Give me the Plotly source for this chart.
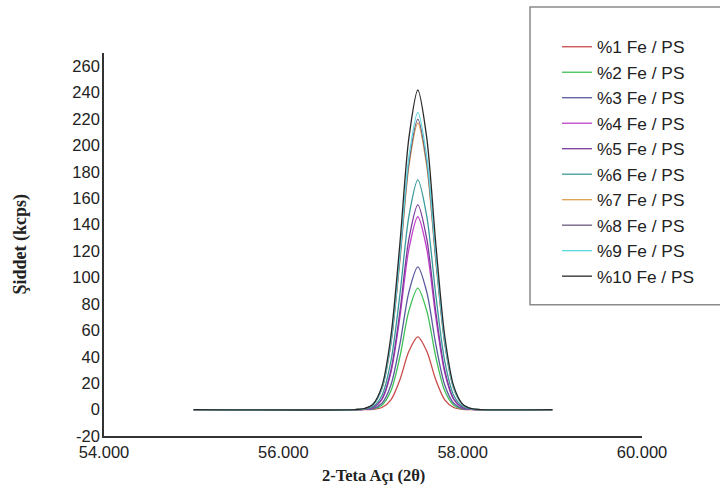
import plotly.graph_objects as go

# 2-theta positions (degrees)
two_theta = [55.0, 56.8, 56.9, 57.0, 57.1, 57.2, 57.3, 57.4, 57.5,
             57.6, 57.7, 57.8, 57.9, 58.0, 58.1, 58.2, 59.0]

# Intensity (kcps) of each Fe/PS sample at those positions
fe_1 = [0, 0, 0.0, 0.2, 1.6, 7.4, 22.6, 44.1, 55, 44.1, 22.6, 7.4, 1.6, 0.2, 0.0, 0, 0]
fe_2 = [0, 0, 0.1, 0.5, 3.3, 14.2, 40.0, 74.7, 92, 74.7, 40.0, 14.2, 3.3, 0.5, 0.1, 0, 0]
fe_3 = [0, 0, 0.1, 0.8, 4.8, 18.6, 49.5, 88.9, 108, 88.9, 49.5, 18.6, 4.8, 0.8, 0.1, 0, 0]
fe_4 = [0, 0, 0.2, 1.5, 7.7, 28.0, 69.9, 121.5, 146, 121.5, 69.9, 28.0, 7.7, 1.5, 0.2, 0, 0]
fe_5 = [0, 0, 0.2, 1.6, 8.2, 29.8, 74.2, 129.0, 155, 129.0, 74.2, 29.8, 8.2, 1.6, 0.2, 0, 0]
fe_6 = [0, 0, 0.3, 2.3, 10.9, 36.7, 87.0, 146.3, 174, 146.3, 87.0, 36.7, 10.9, 2.3, 0.3, 0, 0]
fe_7 = [0, 0, 0.6, 3.7, 15.9, 49.9, 112.8, 184.2, 217, 184.2, 112.8, 49.9, 15.9, 3.7, 0.6, 0, 0]
fe_8 = [0, 0, 0.6, 3.7, 16.1, 50.6, 114.4, 186.8, 220, 186.8, 114.4, 50.6, 16.1, 3.7, 0.6, 0, 0]
fe_9 = [0, 0, 0.6, 3.8, 16.5, 51.8, 117.0, 191.0, 225, 191.0, 117.0, 51.8, 16.5, 3.8, 0.6, 0, 0]
fe_10 = [0, 0, 0.7, 4.1, 17.8, 55.7, 125.8, 205.5, 242, 205.5, 125.8, 55.7, 17.8, 4.1, 0.7, 0, 0]

series_names = ["%1 Fe / PS", "%2 Fe / PS", "%3 Fe / PS", "%4 Fe / PS", "%5 Fe / PS",
                "%6 Fe / PS", "%7 Fe / PS", "%8 Fe / PS", "%9 Fe / PS", "%10 Fe / PS"]
series_values = [fe_1, fe_2, fe_3, fe_4, fe_5, fe_6, fe_7, fe_8, fe_9, fe_10]
series_colors = ["#c84a4a", "#3fbf55", "#5a5a9e", "#c040c8", "#7a3a9a",
                 "#3a9a9a", "#e0a050", "#6e5a80", "#60d8e0", "#2a2a2a"]

y_ticks = list(range(-20, 261, 20))
y_tick_text = [str(v) for v in y_ticks]
x_ticks = [54, 56, 58, 60]

fig = go.Figure()
for name, vals, col in zip(series_names, series_values, series_colors):
    fig.add_trace(go.Scatter(
        x=two_theta, y=vals, name=name, mode="lines",
        line=dict(color=col, width=1.3, shape="spline", smoothing=0.8),
    ))

AX_COLOR = "#333333"
fig.update_layout(
    width=720, height=498,
    margin=dict(l=104, r=78, t=53, b=61.5, autoexpand=False),
    paper_bgcolor="white", plot_bgcolor="white",
    font=dict(family="Liberation Sans, Arial, sans-serif", color="#222222"),
    showlegend=True,
    legend=dict(
        xref="container", yref="container",
        x=557 / 720, y=1 - 29 / 498, xanchor="left", yanchor="top",
        bgcolor="rgba(0,0,0,0)", borderwidth=0,
        font=dict(size=17.3, family="Liberation Sans, Arial, sans-serif", color="#222222"),
        tracegroupgap=0, itemwidth=30, maxheight=1,
    ),
    xaxis=dict(
        range=[54, 60], tickvals=x_ticks, tickformat=".3f",
        showgrid=False, zeroline=False, showline=True,
        linecolor=AX_COLOR, linewidth=1.6, ticks="",
        tickfont=dict(size=16.5), ticklabelstandoff=0,
    ),
    yaxis=dict(
        range=[-20, 270], tickvals=y_ticks, ticktext=y_tick_text,
        showgrid=False, zeroline=False, showline=True,
        linecolor=AX_COLOR, linewidth=1.6, ticks="",
        tickfont=dict(size=16.5), ticklabelstandoff=-1,
    ),
)

# Legend frame
fig.add_shape(type="rect", xref="paper", yref="paper",
              x0=(530 - 104) / 538, x1=(730 - 104) / 538,
              y0=(436.5 - 305) / 383.5, y1=(436.5 - 7) / 383.5,
              line=dict(color="#8a8a8a", width=1.5), fillcolor="rgba(0,0,0,0)",
              layer="below")

# Axis titles
fig.add_annotation(text="<b>2-Teta Açı (2θ)</b>", xref="paper", yref="paper",
                   x=0.5, y=(436.5 - 476) / 383.5, xanchor="center", yanchor="middle",
                   showarrow=False,
                   font=dict(family="Liberation Serif, Times New Roman, serif", size=16.5, color="#222222"))
fig.add_annotation(text="<b>Şiddet (kcps)</b>", xref="paper", yref="paper",
                   x=(20 - 104) / 538, y=0.5, xanchor="center", yanchor="middle",
                   textangle=-90, showarrow=False,
                   font=dict(family="Liberation Serif, Times New Roman, serif", size=18, color="#222222"))

fig.write_html("out.html")
